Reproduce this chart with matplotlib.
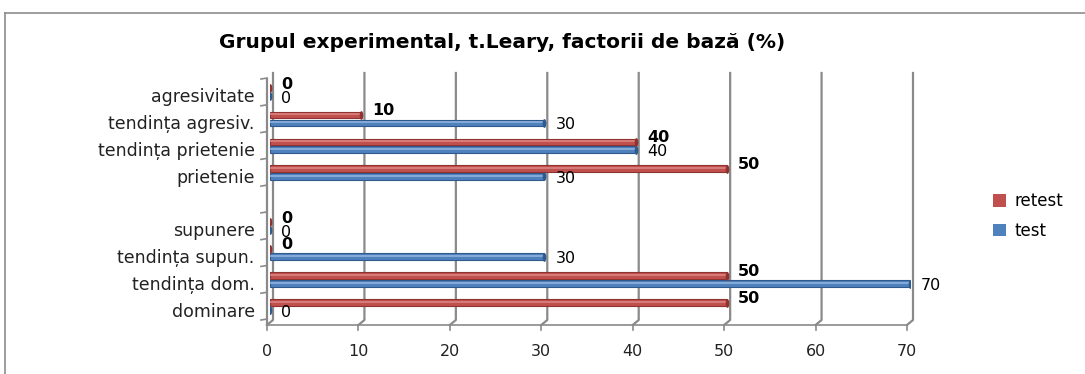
import numpy as np
import matplotlib.pyplot as plt
from matplotlib.path import Path
from matplotlib.lines import Line2D
from matplotlib.patches import Patch
from matplotlib.transforms import ScaledTranslation, blended_transform_factory

# data (bottom to top, the empty slot separates the two groups)
categories = ["dominare", "tendința dom.", "tendința supun.", "supunere", "",
              "prietenie", "tendința prietenie", "tendința agresiv.", "agresivitate"]
test = [0, 70, 30, 0, np.nan, 30, 40, 30, 0]
retest = [50, 50, 0, 0, np.nan, 50, 40, 10, 0]
x_ticks = [0, 10, 20, 30, 40, 50, 60, 70]
title = "Grupul experimental, t.Leary, factorii de bază (%)"

W, H = 1085, 374
red, red_dark, red_light = "#C0504D", "#8E3330", "#E08E8B"
blue, blue_dark, blue_light = "#4F81BD", "#2E5A8E", "#9CBCE3"
grid_col = "#8A8A8A"

fig = plt.figure(figsize=(W / 100, H / 100), dpi=100)
ax = fig.add_axes([270 / W, 1 - 320 / H, 640 / W, 241 / H])
ax.set_xlim(0, 70)
ax.set_ylim(-0.5, len(categories) - 0.5)
for s in ax.spines.values():
    s.set_visible(False)

# 3d-ish wall: back gridlines shifted right, front floor edge shifted left
px_x = 70 / 640.0
px_y = 1 / 241.0
dx, dy = 3 * px_x, 5 * px_y
tr = blended_transform_factory(ax.transData, ax.transAxes)
for t in x_ticks:
    ax.plot([t + dx, t + dx, t - dx], [1.025, 0, -dy], color=grid_col, lw=1.6,
            transform=tr, clip_on=False, zorder=1)
    ax.plot([t - dx, t - dx], [-dy, -dy - 5 * px_y], color=grid_col, lw=1.2,
            transform=tr, clip_on=False, zorder=1)
ax.plot([-dx, 70 - dx], [-dy, -dy], color=grid_col, lw=1.2, transform=tr, clip_on=False)
ax.plot([-dx, -dx], [-dy, 1.0], color=grid_col, lw=1.6, transform=tr, clip_on=False)
for b in np.arange(-0.5, len(categories), 1.0):
    yb = (b + 0.5) / len(categories)
    ax.plot([-dx - 6 * px_x, -dx], [yb, yb + 0.004], color=grid_col, lw=1.2,
            transform=tr, clip_on=False)

# bars as thin cylinders
y = np.arange(len(categories))
h = 0.25
cap = Path(np.column_stack([0.42 * np.cos(np.linspace(0, 2 * np.pi, 40)),
                            np.sin(np.linspace(0, 2 * np.pi, 40))]), closed=True)
for vals, off, base, dark, light, bold in [(test, -0.14, blue, blue_dark, blue_light, False),
                                           (retest, 0.15, red, red_dark, red_light, True)]:
    vals = np.array(vals, dtype=float)
    ok = ~np.isnan(vals)
    yy = y[ok] + off
    vv = vals[ok]
    ax.barh(yy, vv, height=h, color=base, edgecolor=dark, lw=0.8, zorder=3)
    ax.barh(yy + h * 0.12, vv, height=h * 0.28, color=light, lw=0, alpha=0.7, zorder=4)
    ax.scatter(vv, yy, marker=cap, s=40, color=dark, zorder=5, lw=0)
    for v, yv in zip(vv, yy):
        ax.annotate(f"{v:.0f}", (v, yv), xytext=(8, 3 if bold else -1.5),
                    textcoords="offset points", ha="left", va="center",
                    fontsize=11.5, fontweight="bold" if bold else "normal",
                    color="black", zorder=6)

# axis labels
ax.set_xticks(x_ticks)
ax.set_xticklabels([str(t) for t in x_ticks], fontsize=11.5, color="#222222")
ax.tick_params(axis="x", length=0, pad=17)
for lab in ax.get_xticklabels():
    lab.set_transform(lab.get_transform() + ScaledTranslation(-3 / 100, 0, fig.dpi_scale_trans))
ax.set_yticks(y)
ax.set_yticklabels(categories, fontsize=12.5, color="#222222")
ax.tick_params(axis="y", length=0, pad=11)
for lab in ax.get_yticklabels():
    lab.set_transform(lab.get_transform() + ScaledTranslation(0, -3 / 100, fig.dpi_scale_trans))

fig.text(502 / W, 1 - 42 / H, title, ha="center", va="center",
         fontsize=14.5, fontweight="bold")

handles = [Patch(facecolor=red, label="retest"), Patch(facecolor=blue, label="test")]
fig.legend(handles=handles, loc="center left", bbox_to_anchor=(978 / W, 1 - 216 / H),
           frameon=False, fontsize=12, handlelength=0.8, handleheight=0.8,
           handletextpad=0.5, labelspacing=0.7)

# chart frame
fig.add_artist(Line2D([5 / W, 5 / W], [0, 1 - 13 / H], color="#8C8C8C", lw=1.2))
fig.add_artist(Line2D([5 / W, 1], [1 - 13 / H, 1 - 13 / H], color="#8C8C8C", lw=1.2))

fig.savefig("out.png", dpi=100)
